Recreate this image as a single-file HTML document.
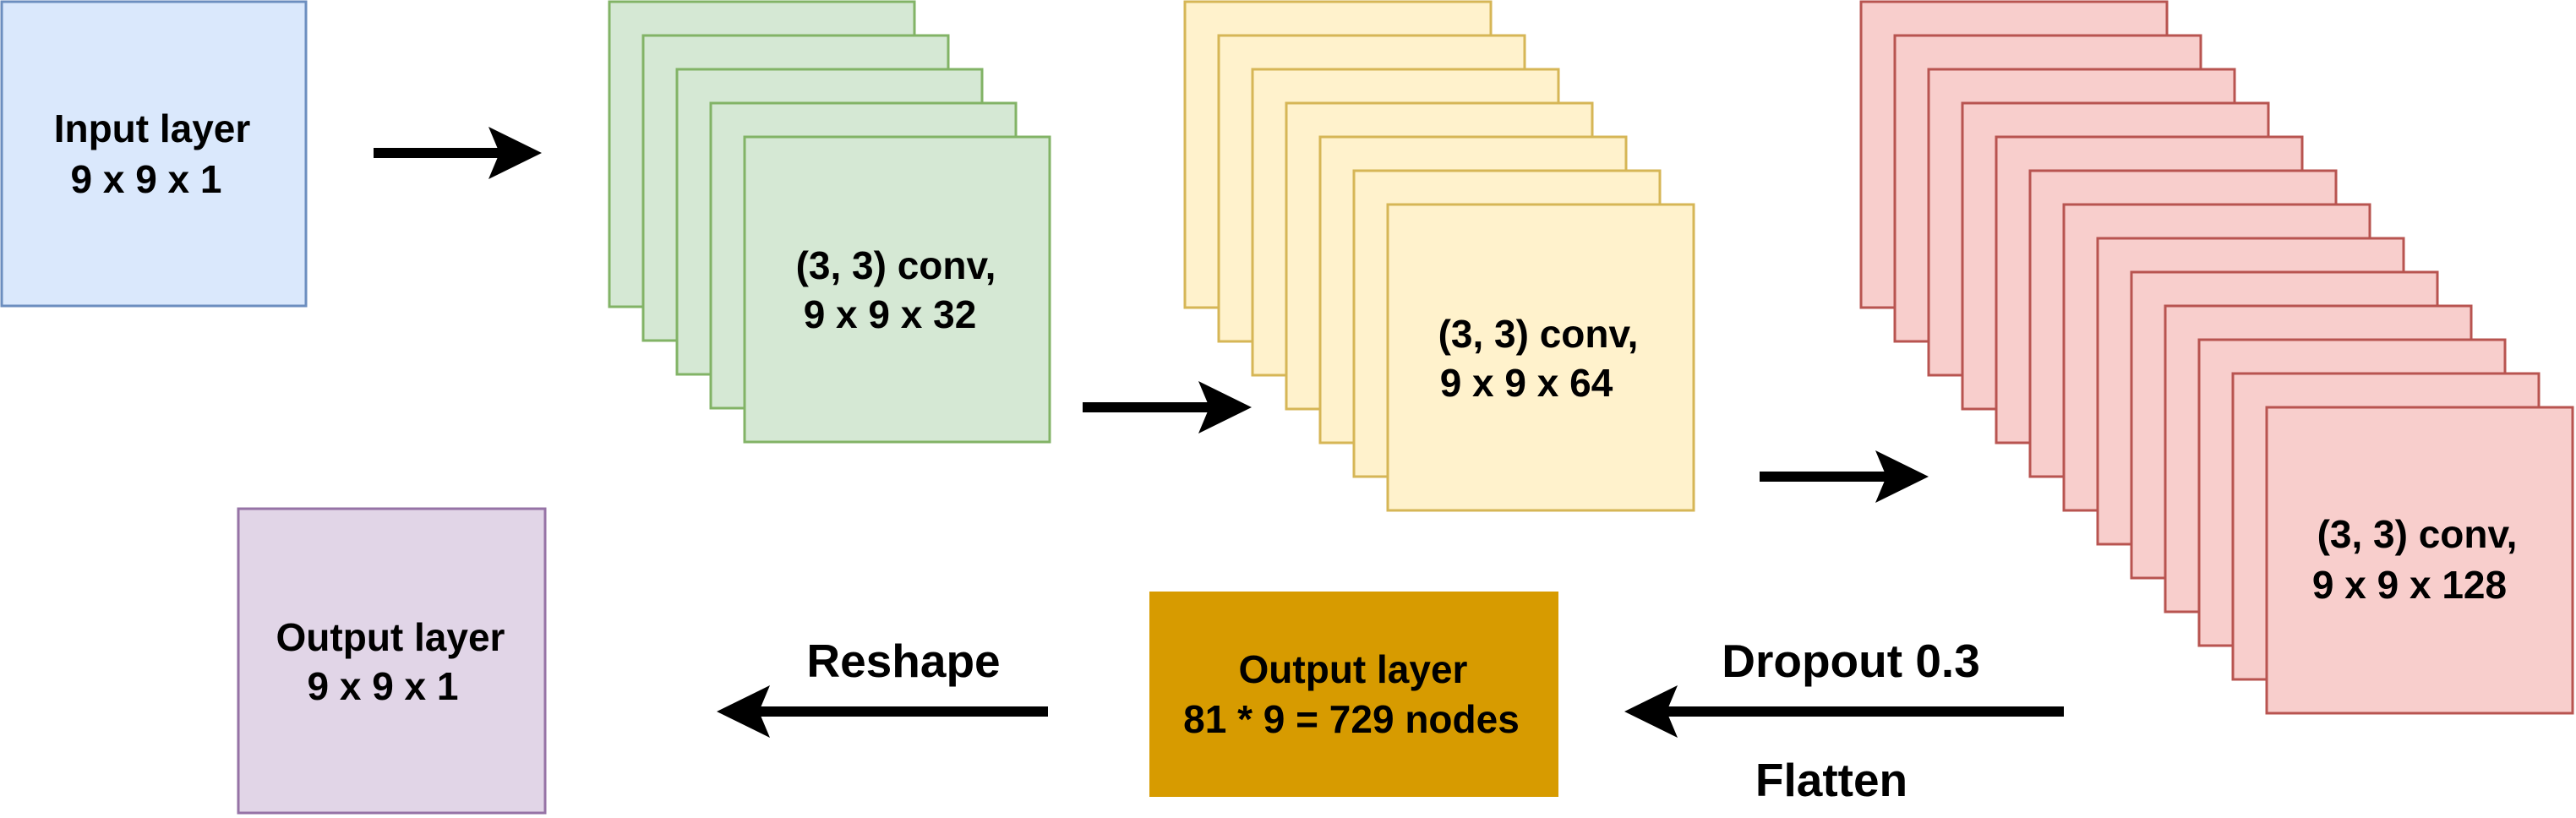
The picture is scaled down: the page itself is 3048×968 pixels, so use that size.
<!DOCTYPE html>
<html><head><meta charset="utf-8"><style>
html,body{margin:0;padding:0;background:#fff;}
svg{display:block;}
text{font-family:"Liberation Sans",Arial,sans-serif;font-weight:bold;fill:#000;text-anchor:middle;}
.b{font-size:46px;}
.l{font-size:55px;}
</style></head><body>
<svg width="3048" height="968" viewBox="0 0 3048 968" xmlns="http://www.w3.org/2000/svg">
<!-- Input -->
<rect x="2" y="2" width="360" height="360" fill="#dae8fc" stroke="#6c8ebf" stroke-width="3"/>
<text class="b" x="180" y="168">Input layer</text>
<text class="b" x="173" y="228">9 x 9 x 1</text>

<!-- Green stack -->
<g fill="#d5e8d4" stroke="#82b366" stroke-width="3">
<rect x="721" y="2" width="361" height="361"/>
<rect x="761" y="42" width="361" height="361"/>
<rect x="801" y="82" width="361" height="361"/>
<rect x="841" y="122" width="361" height="361"/>
<rect x="881" y="162" width="361" height="361"/>
</g>
<text class="b" x="1060" y="330">(3, 3) conv,</text>
<text class="b" x="1053" y="388">9 x 9 x 32</text>

<!-- Yellow stack -->
<g fill="#fff2cc" stroke="#d6b656" stroke-width="3">
<rect x="1402" y="2" width="362" height="362"/>
<rect x="1442" y="42" width="362" height="362"/>
<rect x="1482" y="82" width="362" height="362"/>
<rect x="1522" y="122" width="362" height="362"/>
<rect x="1562" y="162" width="362" height="362"/>
<rect x="1602" y="202" width="362" height="362"/>
<rect x="1642" y="242" width="362" height="362"/>
</g>
<text class="b" x="1820" y="411">(3, 3) conv,</text>
<text class="b" x="1806" y="469">9 x 9 x 64</text>

<!-- Red stack -->
<g fill="#f8cecc" stroke="#b85450" stroke-width="3">
<rect x="2202" y="2" width="362" height="362"/>
<rect x="2242" y="42" width="362" height="362"/>
<rect x="2282" y="82" width="362" height="362"/>
<rect x="2322" y="122" width="362" height="362"/>
<rect x="2362" y="162" width="362" height="362"/>
<rect x="2402" y="202" width="362" height="362"/>
<rect x="2442" y="242" width="362" height="362"/>
<rect x="2482" y="282" width="362" height="362"/>
<rect x="2522" y="322" width="362" height="362"/>
<rect x="2562" y="362" width="362" height="362"/>
<rect x="2602" y="402" width="362" height="362"/>
<rect x="2642" y="442" width="362" height="362"/>
<rect x="2682" y="482" width="362" height="362"/>
</g>
<text class="b" x="2860" y="648">(3, 3) conv,</text>
<text class="b" x="2851" y="708">9 x 9 x 128</text>

<!-- Purple output -->
<rect x="282" y="602" width="363" height="360" fill="#e1d5e7" stroke="#9673a6" stroke-width="3"/>
<text class="b" x="462" y="770">Output layer</text>
<text class="b" x="453" y="828">9 x 9 x 1</text>

<!-- Orange -->
<rect x="1360" y="700" width="484" height="243" fill="#d79b00"/>
<text class="b" x="1601" y="808">Output layer</text>
<text class="b" x="1599" y="867">81 * 9 = 729 nodes</text>

<!-- Arrows -->
<g fill="#000">
<rect x="442" y="175" width="152" height="12"/>
<path d="M641 181 L578 150 L591 181 L578 212 Z"/>
<rect x="1281" y="476" width="152" height="12"/>
<path d="M1481 482 L1418 451 L1431 482 L1418 513 Z"/>
<rect x="2082" y="558" width="152" height="12"/>
<path d="M2282 564 L2219 533 L2232 564 L2219 595 Z"/>
<rect x="896" y="836" width="344" height="12"/>
<path d="M848 842 L911 811 L898 842 L911 873 Z"/>
<rect x="1970" y="836" width="472" height="12"/>
<path d="M1922 842 L1985 811 L1972 842 L1985 873 Z"/>
</g>
<text class="l" x="1069" y="801">Reshape</text>
<text class="l" x="2190" y="801">Dropout 0.3</text>
<text class="l" x="2167" y="942">Flatten</text>
</svg>
</body></html>
